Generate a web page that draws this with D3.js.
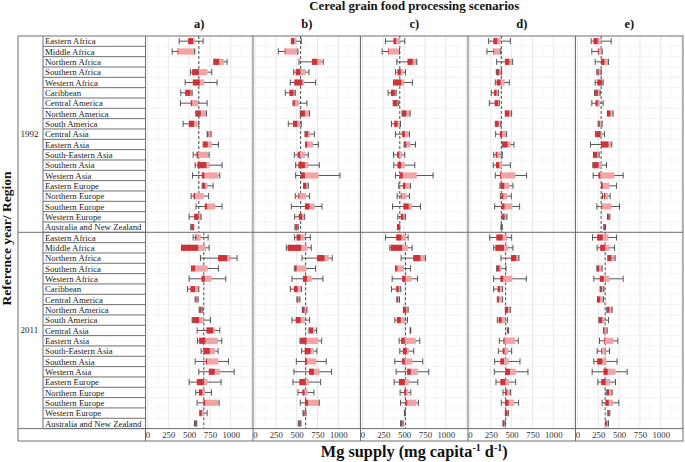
<!DOCTYPE html>
<html><head><meta charset="utf-8">
<script src="https://cdn.jsdelivr.net/npm/d3@7"></script>
<style>body{margin:0;background:#fff}svg{display:block}</style>
</head><body>
<svg id="c" width="685" height="462"></svg>
<script>
// ---------------- DATA ----------------
const regions = ["Eastern Africa","Middle Africa","Northern Africa","Southern Africa","Western Africa","Caribbean","Central America","Northern America","South America","Central Asia","Eastern Asia","South-Eastern Asia","Southern Asia","Western Asia","Eastern Europe","Northern Europe","Southern Europe","Western Europe","Australia and New Zealand"];
const years = ["1992","2011"];
const scenarios = ["a)","b)","c)","d)","e)"];
const xTicks = [0,250,500,750,1000];
// each entry: [whisker low, Q1, median, Q3, whisker high]  (mg capita-1 d-1)
const a1992 = [[380,488,548,568,668],[296,360,368,568,568],[796,800,860,916,956],[516,536,616,720,772],[452,544,628,680,836],[400,452,516,536,536],[396,520,536,608,716],[580,584,640,708,708],[428,496,560,600,616],[716,716,732,764,764],[668,672,724,772,852],[548,588,608,728,740],[572,600,708,740,896],[540,652,684,852,868],[656,660,692,720,788],[524,552,572,676,732],[584,688,716,812,896],[500,560,612,644,644],[520,524,548,556,556]];
const a2011 = [[548,572,588,640,728],[408,412,608,700,740],[636,848,956,996,1076],[528,536,572,720,852],[500,648,688,768,940],[480,516,572,616,616],[572,576,588,608,608],[620,624,648,664,664],[536,540,620,676,756],[596,708,788,812,868],[600,620,696,844,892],[644,676,748,812,848],[572,700,716,852,972],[616,736,808,868,1040],[500,592,676,720,884],[580,616,660,692,768],[596,672,692,848,860],[628,632,652,680,716],[564,568,584,592,592]];
const b1992 = [[436,440,472,496,556],[280,356,360,516,516],[528,684,748,796,820],[464,488,544,608,648],[424,472,568,592,728],[364,412,464,480,484],[456,464,480,528,624],[544,544,600,656,656],[400,456,508,544,556],[600,604,636,664,712],[608,612,628,696,760],[472,512,540,604,640],[488,520,600,640,772],[488,552,600,764,1020],[584,588,616,640,640],[484,520,532,612,656],[436,600,656,716,804],[476,524,568,588,596],[480,484,508,516,520]];
const b2011 = [[476,500,548,596,664],[376,392,556,628,676],[564,744,836,884,928],[472,480,500,616,728],[444,576,624,680,816],[424,468,512,556,560],[504,508,520,536,540],[568,568,596,624,624],[444,488,548,596,656],[648,652,696,716,740],[540,544,620,760,800],[560,596,668,704,744],[496,600,624,736,856],[468,648,708,776,920],[456,532,608,648,788],[516,568,596,632,708],[544,600,636,768,772],[576,580,596,608,612],[520,524,544,552,552]];
const c1992 = [[276,372,404,448,508],[236,308,316,436,444],[412,540,604,652,652],[396,420,460,484,516],[372,380,468,500,600],[308,340,388,404,404],[368,372,420,436,436],[476,476,528,572,572],[348,380,420,452,456],[396,476,508,552,564],[500,504,528,576,636],[372,416,440,476,508],[376,420,464,508,628],[396,452,484,652,848],[436,484,516,564,576],[416,460,468,528,564],[360,492,556,596,696],[424,460,492,512,516],[420,424,440,448,448]];
const c2011 = [[276,404,468,524,548],[328,340,476,544,596],[464,608,696,748,756],[396,404,420,496,576],[356,476,516,588,660],[348,404,436,460,460],[412,416,428,444,444],[492,496,524,548,548],[388,412,460,508,540],[572,572,576,580,580],[440,464,508,640,688],[448,484,532,556,616],[388,476,508,600,724],[404,536,580,664,796],[380,436,508,556,664],[452,500,524,552,580],[456,516,536,648,672],[504,504,508,512,512],[456,460,476,488,488]];
const d1992 = [[224,280,328,364,484],[204,280,288,368,368],[320,420,472,508,512],[316,320,352,376,380],[304,320,368,416,472],[256,288,320,344,344],[232,296,336,352,352],[424,424,472,500,500],[304,308,344,372,372],[308,360,388,440,440],[388,392,452,488,528],[284,308,328,360,388],[280,312,352,388,484],[304,360,372,544,680],[360,368,412,472,516],[364,380,400,448,496],[296,380,416,508,596],[384,388,416,440,444],[372,372,380,384,388]];
const d2011 = [[236,316,392,448,500],[284,304,408,456,516],[372,492,556,588,588],[320,324,356,380,432],[284,364,400,508,676],[284,332,360,392,392],[328,332,348,392,392],[424,424,456,484,484],[328,344,380,424,448],[448,452,456,464,464],[352,400,416,540,580],[340,392,416,456,500],[296,364,408,464,600],[292,428,480,548,696],[312,364,424,472,548],[396,424,444,484,488],[376,420,464,532,584],[424,428,448,460,460],[396,396,412,424,424]];
const e1992 = [[164,192,244,284,404],[172,244,256,296,296],[212,284,324,368,372],[232,240,256,284,284],[212,236,292,308,308],[204,212,244,268,272],[172,216,244,268,308],[360,364,396,424,428],[248,252,268,296,296],[216,224,276,292,324],[156,284,372,404,412],[192,200,236,260,260],[184,188,252,292,348],[188,252,272,444,548],[288,292,304,384,468],[300,316,332,364,392],[232,288,296,408,504],[360,360,376,388,388],[316,316,328,336,336]];
const e2011 = [[180,236,304,372,468],[236,272,332,384,444],[364,368,408,444,452],[232,236,260,296,296],[196,268,316,384,548],[272,272,292,316,316],[240,240,272,312,312],[352,356,384,416,416],[256,260,296,324,372],[312,312,324,356,356],[264,320,328,432,484],[236,284,292,332,384],[196,236,300,348,476],[176,312,364,456,596],[244,284,336,392,456],[344,352,380,416,416],[296,336,376,428,496],[364,364,376,388,388],[340,340,352,372,372]];
// dashed reference line per scenario (a..e) for each year
const ref1992 = [616,548,448,376,284];
const ref2011 = [676,608,516,428,332];

const seriesByScenario = [[a1992,a2011],[b1992,b2011],[c1992,c2011],[d1992,d2011],[e1992,e2011]];
const refs = [ref1992, ref2011];

// ---------------- LAYOUT ----------------
const svg = d3.select("#c");
const serif = "'Liberation Serif','Times New Roman',serif";
const L = 18, R = 683, T = 36, B = 441, yearR = 43, regR = 145.5, rowsB = 428.6;
const pw = (R - regR) / 5;
const lineCol = "#6e6e6e";
const darkRed = "#cd3339", pink = "#f3a2a6", whiskCol = "#555";

const keys = [];
years.forEach(yr => regions.forEach(r => keys.push(yr + "|" + r)));
const y = d3.scaleBand().domain(keys).range([T, rowsB]);
const bh = 6.2;
const blockTop = yr => y(yr + "|" + regions[0]);
const blockBot = yr => y(yr + "|" + regions[regions.length - 1]) + y.bandwidth();

// panels
scenarios.forEach((s, pi) => {
  const x0 = regR + pi * pw;
  const x = d3.scaleLinear().domain([-24, 1267]).range([x0, x0 + pw]);
  const g = svg.append("g");
  d3.range(125, 1267, 250).forEach(v => g.append("line").attr("x1", x(v)).attr("x2", x(v)).attr("y1", T).attr("y2", rowsB).attr("stroke", "#f3f3f3").attr("stroke-width", 0.6));
  d3.range(0, 1267, 250).forEach(v => g.append("line").attr("x1", x(v)).attr("x2", x(v)).attr("y1", T).attr("y2", rowsB).attr("stroke", "#e4e4e4").attr("stroke-width", 0.9));
  keys.forEach(k => g.append("line").attr("x1", x0).attr("x2", x0 + pw).attr("y1", y(k) + y.bandwidth()).attr("y2", y(k) + y.bandwidth()).attr("stroke", "#ececec").attr("stroke-width", 0.7));

  years.forEach((yr, yi) => {
    g.append("line").attr("x1", x(refs[yi][pi])).attr("x2", x(refs[yi][pi]))
      .attr("y1", blockTop(yr)).attr("y2", blockBot(yr))
      .attr("stroke", "#4d4d4d").attr("stroke-width", 1).attr("stroke-dasharray", "3,2");
    const data = seriesByScenario[pi][yi];
    data.forEach((d, ri) => {
      const cy = y(yr + "|" + regions[ri]) + y.bandwidth() / 2;
      const [lo, q1, md, q3, hi] = d;
      g.append("line").attr("x1", x(lo)).attr("x2", x(hi)).attr("y1", cy).attr("y2", cy).attr("stroke", whiskCol).attr("stroke-width", 1);
      g.append("rect").attr("x", x(md)).attr("y", cy - bh / 2).attr("width", Math.max(0, x(q3) - x(md))).attr("height", bh).attr("fill", pink);
      g.append("rect").attr("x", x(q1)).attr("y", cy - bh / 2).attr("width", Math.max(0.8, x(md) - x(q1))).attr("height", bh).attr("fill", darkRed);
      [lo, hi].forEach(v => g.append("line").attr("x1", x(v)).attr("x2", x(v)).attr("y1", cy - bh / 2).attr("y2", cy + bh / 2).attr("stroke", whiskCol).attr("stroke-width", 1));
    });
  });

  const ax = svg.append("g").attr("transform", `translate(0,${rowsB + 1.5})`)
    .call(d3.axisBottom(x).tickValues(xTicks).tickSize(0).tickPadding(2).tickFormat(d3.format("d")));
  ax.select(".domain").remove();
  ax.selectAll("text").attr("font-family", serif).attr("font-size", 8.8).attr("fill", "#333");

  svg.append("text").attr("x", x0 + pw / 2).attr("y", 28).attr("text-anchor", "middle")
    .attr("font-family", serif).attr("font-weight", "bold").attr("font-size", 12.5).attr("fill", "#111").text(s);
});

// table structure
const border = svg.append("g").attr("stroke", lineCol).attr("stroke-width", 1).attr("fill", "none");
border.append("rect").attr("x", L).attr("y", T).attr("width", R - L).attr("height", B - T);
border.append("line").attr("x1", yearR).attr("x2", yearR).attr("y1", T).attr("y2", rowsB);
border.append("line").attr("x1", regR).attr("x2", regR).attr("y1", T).attr("y2", B);
for (let i = 1; i < 5; i++) border.append("line").attr("x1", regR + i * pw).attr("x2", regR + i * pw).attr("y1", T).attr("y2", B);
keys.forEach(k => border.append("line").attr("x1", yearR).attr("x2", regR).attr("y1", y(k) + y.bandwidth()).attr("y2", y(k) + y.bandwidth()));
border.append("line").attr("x1", L).attr("x2", R).attr("y1", blockBot("1992")).attr("y2", blockBot("1992"));
border.append("line").attr("x1", L).attr("x2", R).attr("y1", rowsB).attr("y2", rowsB);

// region labels
keys.forEach(k => {
  svg.append("text").attr("x", yearR + 2).attr("y", y(k) + y.bandwidth() / 2 + 3.1)
    .attr("font-family", serif).attr("font-size", 8.8).attr("fill", "#1a1a1a").text(k.split("|")[1]);
});
// year labels
years.forEach(yr => {
  svg.append("text").attr("x", L + 2.5).attr("y", (blockTop(yr) + blockBot(yr)) / 2 + 3)
    .attr("font-family", serif).attr("font-size", 9).attr("fill", "#1a1a1a").text(yr);
});

// titles
svg.append("text").attr("x", (regR + R) / 2).attr("y", 10).attr("text-anchor", "middle")
  .attr("font-family", serif).attr("font-weight", "bold").attr("font-size", 12.8).attr("fill", "#111")
  .text("Cereal grain food processing scenarios");
svg.append("text").attr("transform", `translate(11,${(T + B) / 2}) rotate(-90)`).attr("text-anchor", "middle")
  .attr("font-family", serif).attr("font-weight", "bold").attr("font-size", 13.5).attr("fill", "#111")
  .text("Reference year/ Region");
const xt = svg.append("text").attr("x", (regR + R) / 2).attr("y", 457).attr("text-anchor", "middle")
  .attr("font-family", serif).attr("font-weight", "bold").attr("font-size", 16.3).attr("fill", "#111");
xt.append("tspan").text("Mg supply (mg capita");
xt.append("tspan").attr("font-size", 10).attr("dy", -6).text("-1");
xt.append("tspan").attr("dy", 6).text(" d");
xt.append("tspan").attr("font-size", 10).attr("dy", -6).text("-1");
xt.append("tspan").attr("dy", 6).text(")");
</script>
</body></html>
